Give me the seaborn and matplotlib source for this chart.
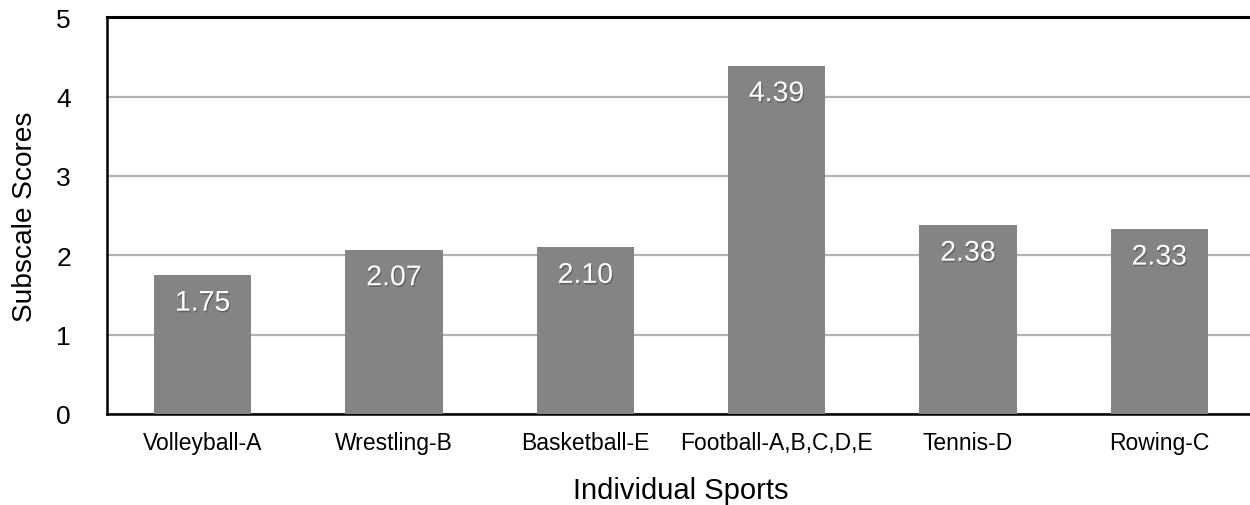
import matplotlib
matplotlib.use("Agg")
import matplotlib.pyplot as plt
import matplotlib.patheffects as pe
import seaborn as sns
import pandas as pd

sports = ["Volleyball-A", "Wrestling-B", "Basketball-E",
          "Football-A,B,C,D,E", "Tennis-D", "Rowing-C"]
scores = [1.75, 2.07, 2.10, 4.39, 2.38, 2.33]
y_ticks = [0, 1, 2, 3, 4, 5]

df = pd.DataFrame({"sport": sports, "score": scores})

sns.set_theme(style="white")
plt.rcParams["font.family"] = ["Liberation Sans", "DejaVu Sans"]

fig = plt.figure(figsize=(12.5, 5.06), dpi=100)
ax = fig.add_axes([0.0856, 0.18, 0.9184, 0.784])

sns.barplot(data=df, x="sport", y="score", color="#848484", saturation=1,
            width=0.507, linewidth=0, edgecolor="none", ax=ax, zorder=3)

ax.set_ylim(0, 5)
ax.set_xlim(-0.5, 5.5)
ax.set_yticks(y_ticks)
ax.yaxis.grid(True, color="#b3b3b3", linewidth=1.6, zorder=0)
ax.xaxis.grid(False)
ax.set_axisbelow(True)

for side in ("left", "bottom"):
    ax.spines[side].set_visible(True)
    ax.spines[side].set_color("black")
    ax.spines[side].set_linewidth(1.8)
ax.spines["top"].set_visible(True)
ax.spines["top"].set_color("black")
ax.spines["top"].set_linewidth(2.2)
ax.spines["right"].set_visible(False)

ax.tick_params(axis="y", length=0, pad=26, labelsize=19, labelcolor="black")
ax.tick_params(axis="x", length=0, pad=12, labelsize=16.5, labelcolor="black")

ax.set_xlabel("Individual Sports", fontsize=21, color="black", labelpad=16)
ax.set_ylabel("Subscale Scores", fontsize=20.2, color="black", labelpad=13)

shadow = [pe.SimplePatchShadow(offset=(0.8, -1.2), shadow_rgbFace="black", alpha=0.25),
          pe.Normal()]
for i, v in enumerate(scores):
    ax.text(i, v - 0.36, f"{v:.2f}", ha="center", va="center", fontsize=20.5,
            color="white", zorder=5, path_effects=shadow)

fig.savefig("out.png", dpi=100)
